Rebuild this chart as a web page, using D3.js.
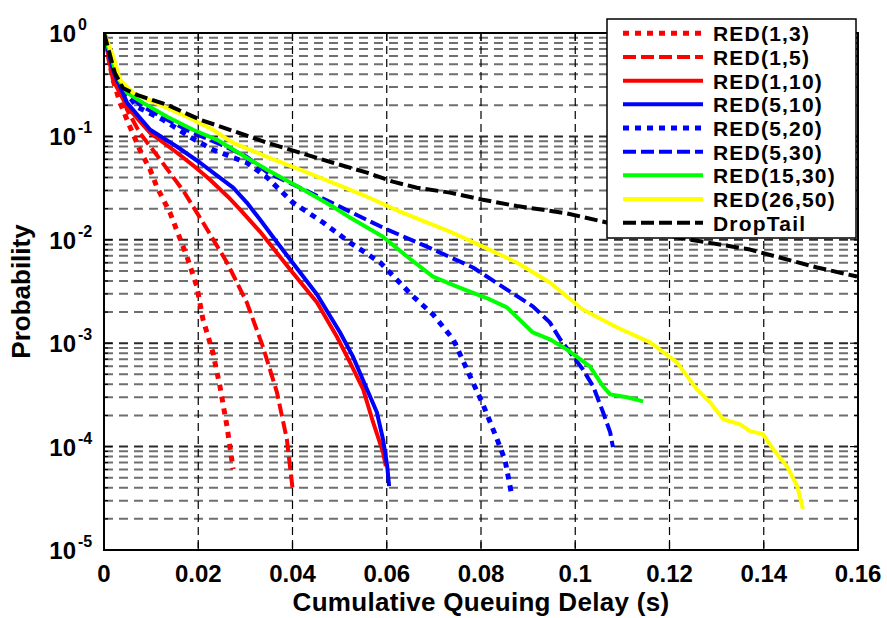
<!DOCTYPE html>
<html><head><meta charset="utf-8">
<script src="https://cdn.jsdelivr.net/npm/d3@7"></script>
<style>body{margin:0;background:#fff}svg{display:block}text{font-family:"Liberation Sans",Arial,sans-serif;font-weight:bold;fill:#000}</style>
</head><body>
<svg id="c" width="887" height="618"></svg>
<script>
// ---- data ----
const xTicks = [0, 0.02, 0.04, 0.06, 0.08, 0.1, 0.12, 0.14, 0.16];
const xTickLabels = ["0", "0.02", "0.04", "0.06", "0.08", "0.1", "0.12", "0.14", "0.16"];
const yTickExponents = [0, -1, -2, -3, -4, -5];
const seriesNames = ["RED(1,3)", "RED(1,5)", "RED(1,10)", "RED(5,10)", "RED(5,20)", "RED(5,30)", "RED(15,30)", "RED(26,50)", "DropTail"];
const xLabel = "Cumulative Queuing Delay (s)";
const yLabel = "Probability";

const red_1_3 = [[0,1],[0.0019,0.352],[0.0034,0.211],[0.0055,0.124],[0.0076,0.0743],[0.0098,0.0476],[0.0112,0.0326],[0.0140,0.0183],[0.0176,0.00689],[0.0197,0.00353],[0.0210,0.00170],[0.0231,0.000815],[0.0246,0.000383],[0.0261,0.000157],[0.0274,0.0000605]];
const red_1_5 = [[0,1],[0.0028,0.329],[0.0049,0.181],[0.0076,0.108],[0.0112,0.0660],[0.0144,0.0420],[0.0170,0.0290],[0.0210,0.0147],[0.0261,0.00603],[0.0303,0.00248],[0.0337,0.000931],[0.0367,0.000335],[0.0388,0.000118],[0.0401,0.0000363]];
const red_1_10 = [[0,1],[0.0019,0.352],[0.0049,0.193],[0.0098,0.108],[0.0155,0.0695],[0.0197,0.049],[0.0225,0.0381],[0.0263,0.0261],[0.0289,0.0196],[0.0331,0.0120],[0.0395,0.00516],[0.0452,0.00248],[0.0494,0.00116],[0.0522,0.000653],[0.0550,0.000358],[0.0571,0.000172],[0.0592,0.0000883],[0.0598,0.0000647]];
const red_5_10 = [[0,1],[0.0019,0.440],[0.0049,0.211],[0.0098,0.116],[0.0155,0.0794],[0.0204,0.0556],[0.0240,0.0417],[0.0274,0.0319],[0.0303,0.0229],[0.0331,0.0157],[0.0363,0.0100],[0.0395,0.00644],[0.0452,0.00296],[0.0501,0.00127],[0.0528,0.000746],[0.0558,0.000358],[0.0579,0.000215],[0.0592,0.000118],[0.0601,0.0000647],[0.0605,0.0000415]];
const red_5_20 = [[0,1],[0.0028,0.352],[0.0070,0.193],[0.0125,0.145],[0.0182,0.0991],[0.0231,0.0743],[0.0303,0.0556],[0.0346,0.0400],[0.0401,0.0229],[0.0465,0.0147],[0.0522,0.0094],[0.0586,0.00603],[0.0656,0.00283],[0.0698,0.00190],[0.0741,0.00109],[0.0770,0.000560],[0.0804,0.000257],[0.0834,0.000118],[0.0851,0.0000740],[0.0866,0.0000325]];
const red_5_30 = [[0,1],[0.0028,0.352],[0.0049,0.252],[0.0083,0.193],[0.0134,0.145],[0.0189,0.108],[0.0240,0.0867],[0.0303,0.0635],[0.0346,0.045],[0.0416,0.0319],[0.0486,0.0225],[0.0522,0.0187],[0.0592,0.0131],[0.0685,0.00859],[0.0783,0.00540],[0.0855,0.00330],[0.0910,0.00227],[0.0946,0.00159],[0.0968,0.00109],[0.0989,0.000815],[0.1016,0.000559],[0.1038,0.000383],[0.1059,0.000215],[0.1074,0.000138],[0.1080,0.0000986]];
const red_15_30 = [[0,1],[0.0028,0.376],[0.0049,0.264],[0.0083,0.211],[0.0134,0.155],[0.0189,0.116],[0.0240,0.0927],[0.0303,0.0621],[0.0346,0.0476],[0.0416,0.0319],[0.0486,0.0209],[0.0522,0.0164],[0.0592,0.0107],[0.0643,0.00689],[0.0698,0.00441],[0.0749,0.00353],[0.0819,0.00265],[0.0855,0.00222],[0.0910,0.00127],[0.0946,0.00109],[0.0982,0.000871],[0.1031,0.000597],[0.1059,0.000383],[0.1074,0.000320],[0.1110,0.000300],[0.1144,0.000274]];
const red_26_50 = [[0,1],[0.0019,0.600],[0.0034,0.352],[0.0062,0.264],[0.0119,0.202],[0.0176,0.155],[0.0231,0.116],[0.0274,0.0867],[0.0346,0.0635],[0.0416,0.0476],[0.0486,0.0356],[0.0558,0.0261],[0.0628,0.0187],[0.0734,0.0120],[0.0804,0.00859],[0.0876,0.00603],[0.0946,0.00386],[0.1016,0.00212],[0.1089,0.00142],[0.1159,0.00102],[0.1216,0.000653],[0.1258,0.000358],[0.1286,0.000268],[0.1314,0.000184],[0.1350,0.000164],[0.1371,0.000141],[0.1398,0.000132],[0.1420,0.0000944],[0.1449,0.0000647],[0.1471,0.0000415],[0.1483,0.0000249]];
const dropTail = [[0,1],[0.0023,0.411],[0.0040,0.294],[0.0070,0.252],[0.0134,0.202],[0.0204,0.145],[0.0274,0.113],[0.0346,0.0867],[0.0416,0.0695],[0.0486,0.0556],[0.0558,0.0446],[0.0613,0.0365],[0.0664,0.0319],[0.0734,0.0286],[0.0804,0.0244],[0.0876,0.0212],[0.0932,0.0195],[0.0982,0.0180],[0.1067,0.0147],[0.1229,0.0103],[0.1371,0.00804],[0.1513,0.0054],[0.1598,0.00441]];

const seriesData = [red_1_3, red_1_5, red_1_10, red_5_10, red_5_20, red_5_30, red_15_30, red_26_50, dropTail];
const seriesColors = ["#ff0000","#ff0000","#ff0000","#0000ff","#0000ff","#0000ff","#00ff00","#ffff00","#000000"];
const seriesStyles = ["dot","dash","solid","solid","dot","dash","solid","solid","dash"];

// ---- layout ----
const L = 104, R = 858, T = 33, B = 550;
const svg = d3.select("#c");
const x = d3.scaleLinear().domain([0, 0.16]).range([L, R]);
const y = d3.scaleLog().domain([1e-5, 1]).range([B, T]);

// grid
const g = svg.append("g");
for (let k = -5; k < 0; k++) {
  for (let m = 2; m <= 9; m++) {
    const v = m * Math.pow(10, k);
    g.append("line").attr("x1", L).attr("x2", R).attr("y1", y(v)).attr("y2", y(v))
      .attr("stroke", "#6f6f6f").attr("stroke-width", 2).attr("stroke-dasharray", "9,6");
  }
}
yTickExponents.forEach(e => {
  const v = Math.pow(10, e);
  g.append("line").attr("x1", L).attr("x2", R).attr("y1", y(v)).attr("y2", y(v))
    .attr("stroke", "#2a2a2a").attr("stroke-width", 2).attr("stroke-dasharray", "9,6");
});
xTicks.forEach(t => {
  g.append("line").attr("x1", x(t)).attr("x2", x(t)).attr("y1", T).attr("y2", B)
    .attr("stroke", "#000").attr("stroke-width", 1.2).attr("stroke-dasharray", "8,5");
});

// ticks inside
const tk = svg.append("g").attr("stroke", "#000").attr("stroke-width", 1.2);
for (let k = -5; k < 0; k++) for (let m = 2; m <= 9; m++) {
  const v = m * Math.pow(10, k);
  tk.append("line").attr("x1", L).attr("x2", L + 4).attr("y1", y(v)).attr("y2", y(v));
  tk.append("line").attr("x1", R).attr("x2", R - 4).attr("y1", y(v)).attr("y2", y(v));
}
yTickExponents.forEach(e => {
  const v = Math.pow(10, e);
  tk.append("line").attr("x1", L).attr("x2", L + 8).attr("y1", y(v)).attr("y2", y(v));
  tk.append("line").attr("x1", R).attr("x2", R - 8).attr("y1", y(v)).attr("y2", y(v));
});
xTicks.forEach(t => {
  tk.append("line").attr("x1", x(t)).attr("x2", x(t)).attr("y1", B).attr("y2", B - 8);
  tk.append("line").attr("x1", x(t)).attr("x2", x(t)).attr("y1", T).attr("y2", T + 8);
});

// curves
svg.append("clipPath").attr("id", "clip").append("rect").attr("x", L).attr("y", T).attr("width", R - L).attr("height", B - T);
const line = d3.line().x(d => x(d[0])).y(d => y(d[1]));
const dashFor = s => s === "dot" ? "6,6" : (s === "dash" ? "13,5" : null);
const cg = svg.append("g").attr("clip-path", "url(#clip)");
seriesData.forEach((d, i) => {
  cg.append("path").datum(d).attr("d", line).attr("fill", "none")
    .attr("stroke", seriesColors[i]).attr("stroke-width", seriesStyles[i] === "dot" ? 5 : 4)
    .attr("stroke-dasharray", dashFor(seriesStyles[i])).attr("stroke-linejoin", "round");
});

// box
svg.append("rect").attr("x", L).attr("y", T).attr("width", R - L).attr("height", B - T)
  .attr("fill", "none").attr("stroke", "#000").attr("stroke-width", 2);

// tick labels
xTicks.forEach((t, i) => {
  svg.append("text").attr("x", x(t)).attr("y", 582).attr("text-anchor", "middle")
    .attr("font-size", 24).text(xTickLabels[i]);
});
yTickExponents.forEach(e => {
  const py = y(Math.pow(10, e));
  svg.append("text").attr("x", 76).attr("y", py + 9).attr("text-anchor", "end").attr("font-size", 24).text("10");
  svg.append("text").attr("x", 78).attr("y", py - 3).attr("text-anchor", "start").attr("font-size", 16).text(String(e));
});

// axis labels
svg.append("text").attr("x", (L + R) / 2).attr("y", 611).attr("text-anchor", "middle").attr("font-size", 26).attr("letter-spacing", 0.3).text(xLabel);
svg.append("text").attr("transform", "translate(30," + ((T + B) / 2) + ") rotate(-90)")
  .attr("text-anchor", "middle").attr("font-size", 26).text(yLabel);

// legend
const lg = svg.append("g");
lg.append("rect").attr("x", 607).attr("y", 19).attr("width", 249).attr("height", 219)
  .attr("fill", "#fff").attr("stroke", "#000").attr("stroke-width", 1.5);
seriesNames.forEach((n, i) => {
  const cy = 33.3 + i * 23.67;
  lg.append("line").attr("x1", 623).attr("x2", 703).attr("y1", cy).attr("y2", cy)
    .attr("stroke", seriesColors[i]).attr("stroke-width", seriesStyles[i] === "dot" ? 5 : 4)
    .attr("stroke-dasharray", dashFor(seriesStyles[i]));
  lg.append("text").attr("x", 713).attr("y", cy + 8).attr("font-size", 21).attr("letter-spacing", 1.2).text(n);
});
</script>
</body></html>
